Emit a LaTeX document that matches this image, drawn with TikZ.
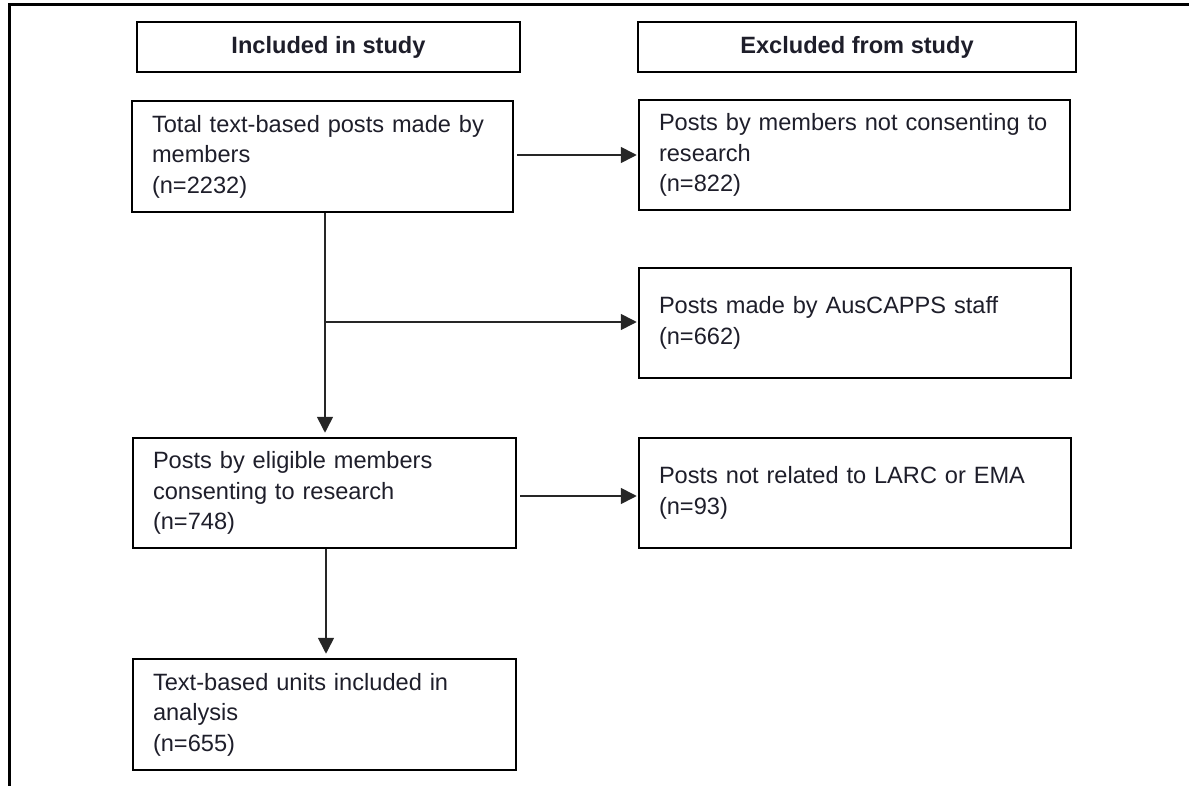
\documentclass[tikz,border=0pt]{standalone}
\usepackage{fontspec}
\setmainfont{Liberation Sans}
\usetikzlibrary{arrows.meta}
\definecolor{txt}{RGB}{30,30,42}
\tikzset{
  box/.style={draw=black, line width=2.5pt, rectangle, align=left, inner xsep=20pt, inner ysep=0pt,
    text=txt, font=\fontsize{23.6}{30.5}\selectfont},
  hbox/.style={draw=black, line width=2.5pt, rectangle, align=center, inner sep=0pt,
    text=txt, font=\fontsize{23.6}{30}\selectfont\bfseries},
  conn/.style={draw=black!85, line width=1.6pt},
  arr/.style={conn, -{Triangle[length=16pt,width=16pt]}},
  frameline/.style={draw=black, line width=3pt}
}
\begin{document}
\begin{tikzpicture}[x=1pt,y=-1pt]
\useasboundingbox (0,0) rectangle (1189,786);
\draw[frameline] (9,786) -- (9,5) -- (1189,5);
% headers
\node[hbox, minimum width=383pt, minimum height=50pt] (hinc) at (328.5,47) {Included in study};
\node[hbox, minimum width=438pt, minimum height=50pt] (hexc) at (857,47) {Excluded from study};
% boxes
\node[box, text width=341pt, minimum height=111pt] (b1) at (322.5,156.5)
  {\mbox{Total text-based posts made by}\\members\\(n=2232)};
\node[box, text width=391pt, minimum height=110pt] (e1) at (854.5,155)
  {\mbox{Posts by members not consenting to}\\research\\(n=822)};
\node[box, text width=392pt, minimum height=110pt] (e2) at (855,323)
  {\mbox{Posts made by AusCAPPS staff}\\(n=662)};
\node[box, text width=343pt, minimum height=110pt] (b3) at (324.5,493)
  {\mbox{Posts by eligible members}\\consenting to research\\(n=748)};
\node[box, text width=392pt, minimum height=110pt] (e3) at (855,493)
  {\mbox{Posts not related to LARC or EMA}\\(n=93)};
\node[box, text width=343pt, minimum height=111pt] (b4) at (324.5,714.5)
  {\mbox{Text-based units included in}\\analysis\\(n=655)};
% connectors
\coordinate (br) at (325,322);
\coordinate (vb) at (326,600);
\draw[arr, shorten <=3pt, shorten >=1pt] (b1.east |- 0,155) -- (e1.west |- 0,155);
\draw[arr, shorten >=4pt] (b1.south -| br) -- (b3.north -| br);
\draw[arr, shorten >=1pt] (br) -- (br -| e2.west);
\draw[arr, shorten <=3pt, shorten >=1pt] (b3.east |- 0,496) -- (e3.west |- 0,496);
\draw[arr, shorten >=4pt] (b3.south -| vb) -- (b4.north -| vb);
\end{tikzpicture}
\end{document}
